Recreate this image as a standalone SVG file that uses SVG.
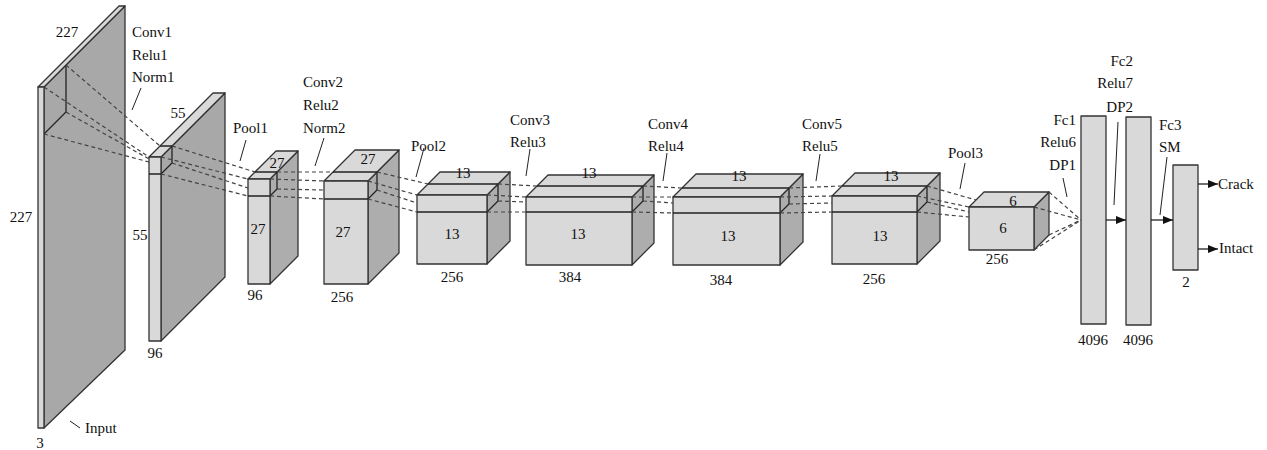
<svg xmlns="http://www.w3.org/2000/svg" width="1267" height="450" viewBox="0 0 1267 450" font-family="Liberation Serif, serif">
<style>
.lt{fill:#d9d9d9;stroke:#333;stroke-width:1.3;stroke-linejoin:round}
.dk{fill:#adadad;stroke:#333;stroke-width:1.3;stroke-linejoin:round}
.big{fill:#a8a8a8;stroke:#333;stroke-width:1.3;stroke-linejoin:round}
.k{stroke:#222;stroke-width:1.3;fill:none}
.ds{stroke:#444;stroke-width:1.2;stroke-dasharray:4 3;fill:none}
.ld{stroke:#222;stroke-width:1;fill:none}
.ar{stroke:#111;stroke-width:1.2;fill:none;marker-end:url(#ah)}
text{font-family:'Liberation Serif',serif;font-size:15px;fill:#111}
.m{text-anchor:middle}
.r{text-anchor:end}
</style>
<defs>
<marker id="ah" markerWidth="10" markerHeight="8" refX="10" refY="4" orient="auto" markerUnits="userSpaceOnUse">
<path d="M0,0 L10,4 L0,8 z" fill="#111"/>
</marker>
</defs>
<rect width="1267" height="450" fill="#fff"/>

<g id="input">
<polygon class="big" points="44,87 125,6 125,350 44,428"/>
<polygon class="lt" points="38,87 44,87 125,6 119,6"/>
<rect class="lt" x="38" y="87" width="6" height="341"/>
<path class="k" d="M66,65 L66,112 L44,134"/>
<text class="m" x="67" y="37">227</text>
<text class="m" x="21" y="222">227</text>
<text class="m" x="40" y="448">3</text>
<text x="85" y="433">Input</text>
</g>

<g id="conv1">
<polygon class="big" points="161,157 225,93 225,277 161,341"/>
<polygon class="lt" points="149,157 161,157 225,93 213,93"/>
<rect class="lt" x="149" y="157" width="12" height="184"/>
<path class="k" d="M160,146 L172,146 L172,163 L161,174 M149,174 L161,174"/>
<text x="132" y="37">Conv1</text>
<text x="132" y="60">Relu1</text>
<text x="132" y="82">Norm1</text>
<text class="m" x="178" y="118">55</text>
<text class="m" x="140" y="240">55</text>
<text class="m" x="155" y="358">96</text>
</g>

<g id="pool1">
<polygon class="dk" points="270,179 298,151 298,256 270,284"/>
<polygon class="lt" points="248,179 270,179 298,151 276,151"/>
<rect class="lt" x="248" y="179" width="22" height="105"/>
<path class="k" d="M255,172 L277,172 L277,189 L270,196 M248,196 L270,196"/>
<text x="233" y="133">Pool1</text>
<text class="m" x="277" y="168">27</text>
<text class="m" x="258" y="234">27</text>
<text class="m" x="255" y="300">96</text>
</g>

<g id="conv2">
<polygon class="dk" points="368,181 399,150 399,253 368,284"/>
<polygon class="lt" points="324,181 368,181 399,150 355,150"/>
<rect class="lt" x="324" y="181" width="44" height="103"/>
<path class="k" d="M333,172 L377,172 L377,190 L368,199 M324,199 L368,199"/>
<text x="303" y="87">Conv2</text>
<text x="303" y="110">Relu2</text>
<text x="303" y="133">Norm2</text>
<text class="m" x="368" y="164">27</text>
<text class="m" x="343" y="237">27</text>
<text class="m" x="342" y="302">256</text>
</g>

<g id="pool2">
<polygon class="dk" points="487,195 510,172 510,241 487,264"/>
<polygon class="lt" points="417,195 487,195 510,172 440,172"/>
<rect class="lt" x="417" y="195" width="70" height="69"/>
<path class="k" d="M428,184 L498,184 L498,201 L487,212 M417,212 L487,212"/>
<text x="411" y="151">Pool2</text>
<text class="m" x="463" y="178">13</text>
<text class="m" x="452" y="239">13</text>
<text class="m" x="452" y="282">256</text>
</g>

<g id="conv3">
<polygon class="dk" points="632,197 654,175 654,243 632,265"/>
<polygon class="lt" points="526,197 632,197 654,175 548,175"/>
<rect class="lt" x="526" y="197" width="106" height="68"/>
<path class="k" d="M537,186 L643,186 L643,201 L632,212 M526,212 L632,212"/>
<text x="510" y="125">Conv3</text>
<text x="510" y="147">Relu3</text>
<text class="m" x="589" y="178">13</text>
<text class="m" x="578" y="239">13</text>
<text class="m" x="570" y="282">384</text>
</g>

<g id="conv4">
<polygon class="dk" points="780,197 803,174 803,242 780,265"/>
<polygon class="lt" points="673,197 780,197 803,174 696,174"/>
<rect class="lt" x="673" y="197" width="107" height="68"/>
<path class="k" d="M682,188 L789,188 L789,204 L780,213 M673,213 L780,213"/>
<text x="648" y="129">Conv4</text>
<text x="648" y="151">Relu4</text>
<text class="m" x="739" y="181">13</text>
<text class="m" x="728" y="241">13</text>
<text class="m" x="721" y="285">384</text>
</g>

<g id="conv5">
<polygon class="dk" points="917,196 940,173 940,241 917,264"/>
<polygon class="lt" points="832,196 917,196 940,173 855,173"/>
<rect class="lt" x="832" y="196" width="85" height="68"/>
<path class="k" d="M842,186 L927,186 L927,202 L917,212 M832,212 L917,212"/>
<text x="802" y="129">Conv5</text>
<text x="802" y="151">Relu5</text>
<text class="m" x="891" y="181">13</text>
<text class="m" x="880" y="241">13</text>
<text class="m" x="874" y="284">256</text>
</g>

<g id="pool3">
<polygon class="dk" points="1034,207 1049,192 1049,235 1034,250"/>
<polygon class="lt" points="969,207 1034,207 1049,192 984,192"/>
<rect class="lt" x="969" y="207" width="65" height="43"/>
<text x="948" y="158">Pool3</text>
<text class="m" x="1013" y="206">6</text>
<text class="m" x="1003" y="233">6</text>
<text class="m" x="997" y="264">256</text>
</g>

<g id="fc1">
<rect class="lt" x="1081" y="116" width="25" height="208"/>
<text class="r" x="1076" y="125">Fc1</text>
<text class="r" x="1076" y="147">Relu6</text>
<text class="r" x="1076" y="170">DP1</text>
<text class="m" x="1093" y="345">4096</text>
</g>

<g id="fc2">
<rect class="lt" x="1126" y="117" width="25" height="208"/>
<text class="r" x="1133" y="66">Fc2</text>
<text class="r" x="1133" y="88">Relu7</text>
<text class="r" x="1133" y="112">DP2</text>
<text class="m" x="1138" y="345">4096</text>
</g>

<g id="fc3">
<rect class="lt" x="1173" y="165" width="25" height="105"/>
<text x="1159" y="130">Fc3</text>
<text x="1159" y="152">SM</text>
<text class="m" x="1186" y="287">2</text>
</g>

<g id="outputs">
<text x="1218" y="189">Crack</text>
<text x="1219" y="253">Intact</text>
</g>

<g id="connectors">
<path class="ds" d="M66,65 L160,146 M44,87 L149,157 M66,112 L149,159 M44,134 L149,162"/>
<path class="ds" d="M172,146 L255,172 M161,157 L248,179 M172,163 L248,188 M161,174 L248,196"/>
<path class="ds" d="M277,172 L333,172 M270,179 L324,181 M277,189 L324,190 M270,196 L324,199"/>
<path class="ds" d="M377,172 L428,184 M368,181 L417,195 M377,190 L417,203 M368,199 L417,212"/>
<path class="ds" d="M498,184 L537,186 M487,195 L526,197 M498,201 L526,202 M487,212 L526,212"/>
<path class="ds" d="M643,186 L682,188 M632,197 L673,197 M643,201 L673,203 M632,212 L673,213"/>
<path class="ds" d="M789,188 L842,186 M780,197 L832,196 M789,204 L832,203 M780,213 L832,212"/>
<path class="ds" d="M927,186 L976,200 M917,196 L969,207 M927,202 L969,212 M917,212 L969,217"/>
<path class="ds" d="M1049,192 L1081,220 M1034,207 L1081,220 M1034,250 L1081,220 M1049,235 L1081,220"/>
<path class="ld" d="M70,421 L80,428 M141,88 L132,110 M246,140 L240,161 M324,138 L315,166 M424,148 L416,177 M530,149 L526,176 M667,153 L663,181 M820,154 L816,181 M965,163 L960,189 M1063,178 L1067,197 M1118,122 L1114,205 M1167,157 L1160,215"/>
<line class="ar" x1="1106" y1="220" x2="1126" y2="220"/>
<line class="ar" x1="1151" y1="220" x2="1173" y2="220"/>
<line class="ar" x1="1198" y1="184" x2="1218" y2="184"/>
<line class="ar" x1="1198" y1="249" x2="1218" y2="249"/>
</g>
</svg>
